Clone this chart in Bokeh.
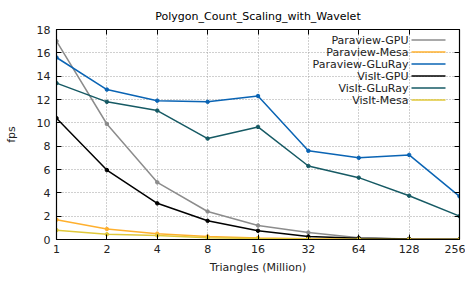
from bokeh.plotting import figure
from bokeh.models import (FixedTicker, LinearAxis, LogAxis, Label, BoxAnnotation, Range1d)
from bokeh.embed import file_html
from bokeh.resources import INLINE

triangles = [1, 2, 4, 8, 16, 32, 64, 128, 256]
tick_labels = ["1", "2", "4", "8", "16", "32", "64", "128", "256"]
y_ticks = [0, 2, 4, 6, 8, 10, 12, 14, 16, 18]

paraview_gpu = [17.0, 9.9, 4.9, 2.4, 1.2, 0.6, 0.15, 0.05, 0.02]
paraview_mesa = [1.7, 0.9, 0.5, 0.25, 0.12, 0.06, 0.03, 0.02, 0.01]
paraview_gluray = [15.6, 12.85, 11.9, 11.8, 12.3, 7.6, 7.0, 7.25, 3.7]
visit_gpu = [10.4, 5.95, 3.1, 1.6, 0.75, 0.25, 0.1, 0.05, 0.02]
visit_gluray = [13.4, 11.8, 11.05, 8.65, 9.65, 6.3, 5.3, 3.75, 2.0]
visit_mesa = [0.8, 0.45, 0.35, 0.15, 0.08, 0.04, 0.02, 0.01, 0.01]

series_names = ["Paraview-GPU", "Paraview-Mesa", "Paraview-GLuRay",
                "VisIt-GPU", "VisIt-GLuRay", "VisIt-Mesa"]
series_values = [paraview_gpu, paraview_mesa, paraview_gluray,
                 visit_gpu, visit_gluray, visit_mesa]
series_colors = ["#8c8c8c", "#ffb02e", "#0a64b4", "#000000", "#165a64", "#e0c83a"]

FONT = "DejaVu Sans"
FS = "11px"

p = figure(width=465, height=276, x_axis_type="log", output_backend="svg",
           toolbar_location=None, x_range=Range1d(1, 256), y_range=Range1d(0, 18),
           min_border_left=56, min_border_right=6, min_border_top=27, min_border_bottom=37)

p.title.text = "Polygon_Count_Scaling_with_Wavelet"
p.title.align = "center"
p.title.text_font = FONT
p.title.text_font_size = FS
p.title.text_font_style = "normal"
p.title.text_color = "#000000"
p.title.offset = 0
p.title.standoff = 14

p.outline_line_color = "#000000"
p.outline_line_width = 1
p.background_fill_color = "white"
p.border_fill_color = "white"

xt = FixedTicker(ticks=triangles, minor_ticks=[])
yt = FixedTicker(ticks=y_ticks, minor_ticks=[])

bottom_axis = p.xaxis[0]
left_axis = p.yaxis[0]

bottom_axis.ticker = xt
bottom_axis.major_label_overrides = {t: l for t, l in zip(triangles, tick_labels)}
left_axis.ticker = yt

top_axis = LogAxis(ticker=xt, major_label_overrides={t: "" for t in triangles},
                   major_label_standoff=0)
right_axis = LinearAxis(ticker=yt, major_label_overrides={t: "" for t in y_ticks},
                        major_label_standoff=0)
p.add_layout(top_axis, "above")
p.add_layout(right_axis, "right")

for ax in (bottom_axis, left_axis, top_axis, right_axis):
    ax.major_tick_in = 5
    ax.major_tick_out = 0
    ax.minor_tick_in = 0
    ax.minor_tick_out = 0
    ax.axis_line_color = "#000000"
    ax.axis_line_width = 1.2
    ax.major_tick_line_color = "#000000"
for ax in (bottom_axis, left_axis):
    ax.major_label_text_font = FONT
    ax.major_label_text_font_size = FS
    ax.major_label_text_color = "#222222"
    ax.axis_label_text_font = FONT
    ax.axis_label_text_font_size = FS
    ax.axis_label_text_font_style = "normal"
    ax.axis_label_text_color = "#222222"
    ax.major_label_standoff = 6
bottom_axis.axis_label = "Triangles (Million)"
left_axis.axis_label = "fps"
bottom_axis.axis_label_standoff = 5
bottom_axis.major_label_standoff = 5
left_axis.axis_label_standoff = 16

p.xgrid.ticker = xt
p.ygrid.ticker = yt
for g in (p.xgrid[0], p.ygrid[0]):
    g.grid_line_color = "#a0a0a0"
    g.grid_line_dash = "1 2"
    g.grid_line_width = 1

for name, vals, col in zip(series_names, series_values, series_colors):
    p.line(triangles, vals, line_color=col, line_width=1.5)
    p.scatter(triangles, vals, marker="circle", size=3.5, fill_color=col, line_color=col)

# legend, gnuplot style: text right-aligned, sample line after it (frame-relative screen units)
for i, (name, col) in enumerate(zip(series_names, series_colors)):
    ys = 199.5 - 12.0 * i
    p.add_layout(Label(x=352, y=ys, x_units="screen", y_units="screen",
                       text=name, text_align="right", text_baseline="middle",
                       text_font=FONT, text_font_size=FS, text_color="#222222"))
    p.add_layout(BoxAnnotation(left=355, right=389, bottom=ys - 0.8, top=ys + 0.8,
                               left_units="screen", right_units="screen",
                               bottom_units="screen", top_units="screen",
                               fill_color=col, fill_alpha=1, line_alpha=0))

open("out.html", "w").write(file_html(p, INLINE))
